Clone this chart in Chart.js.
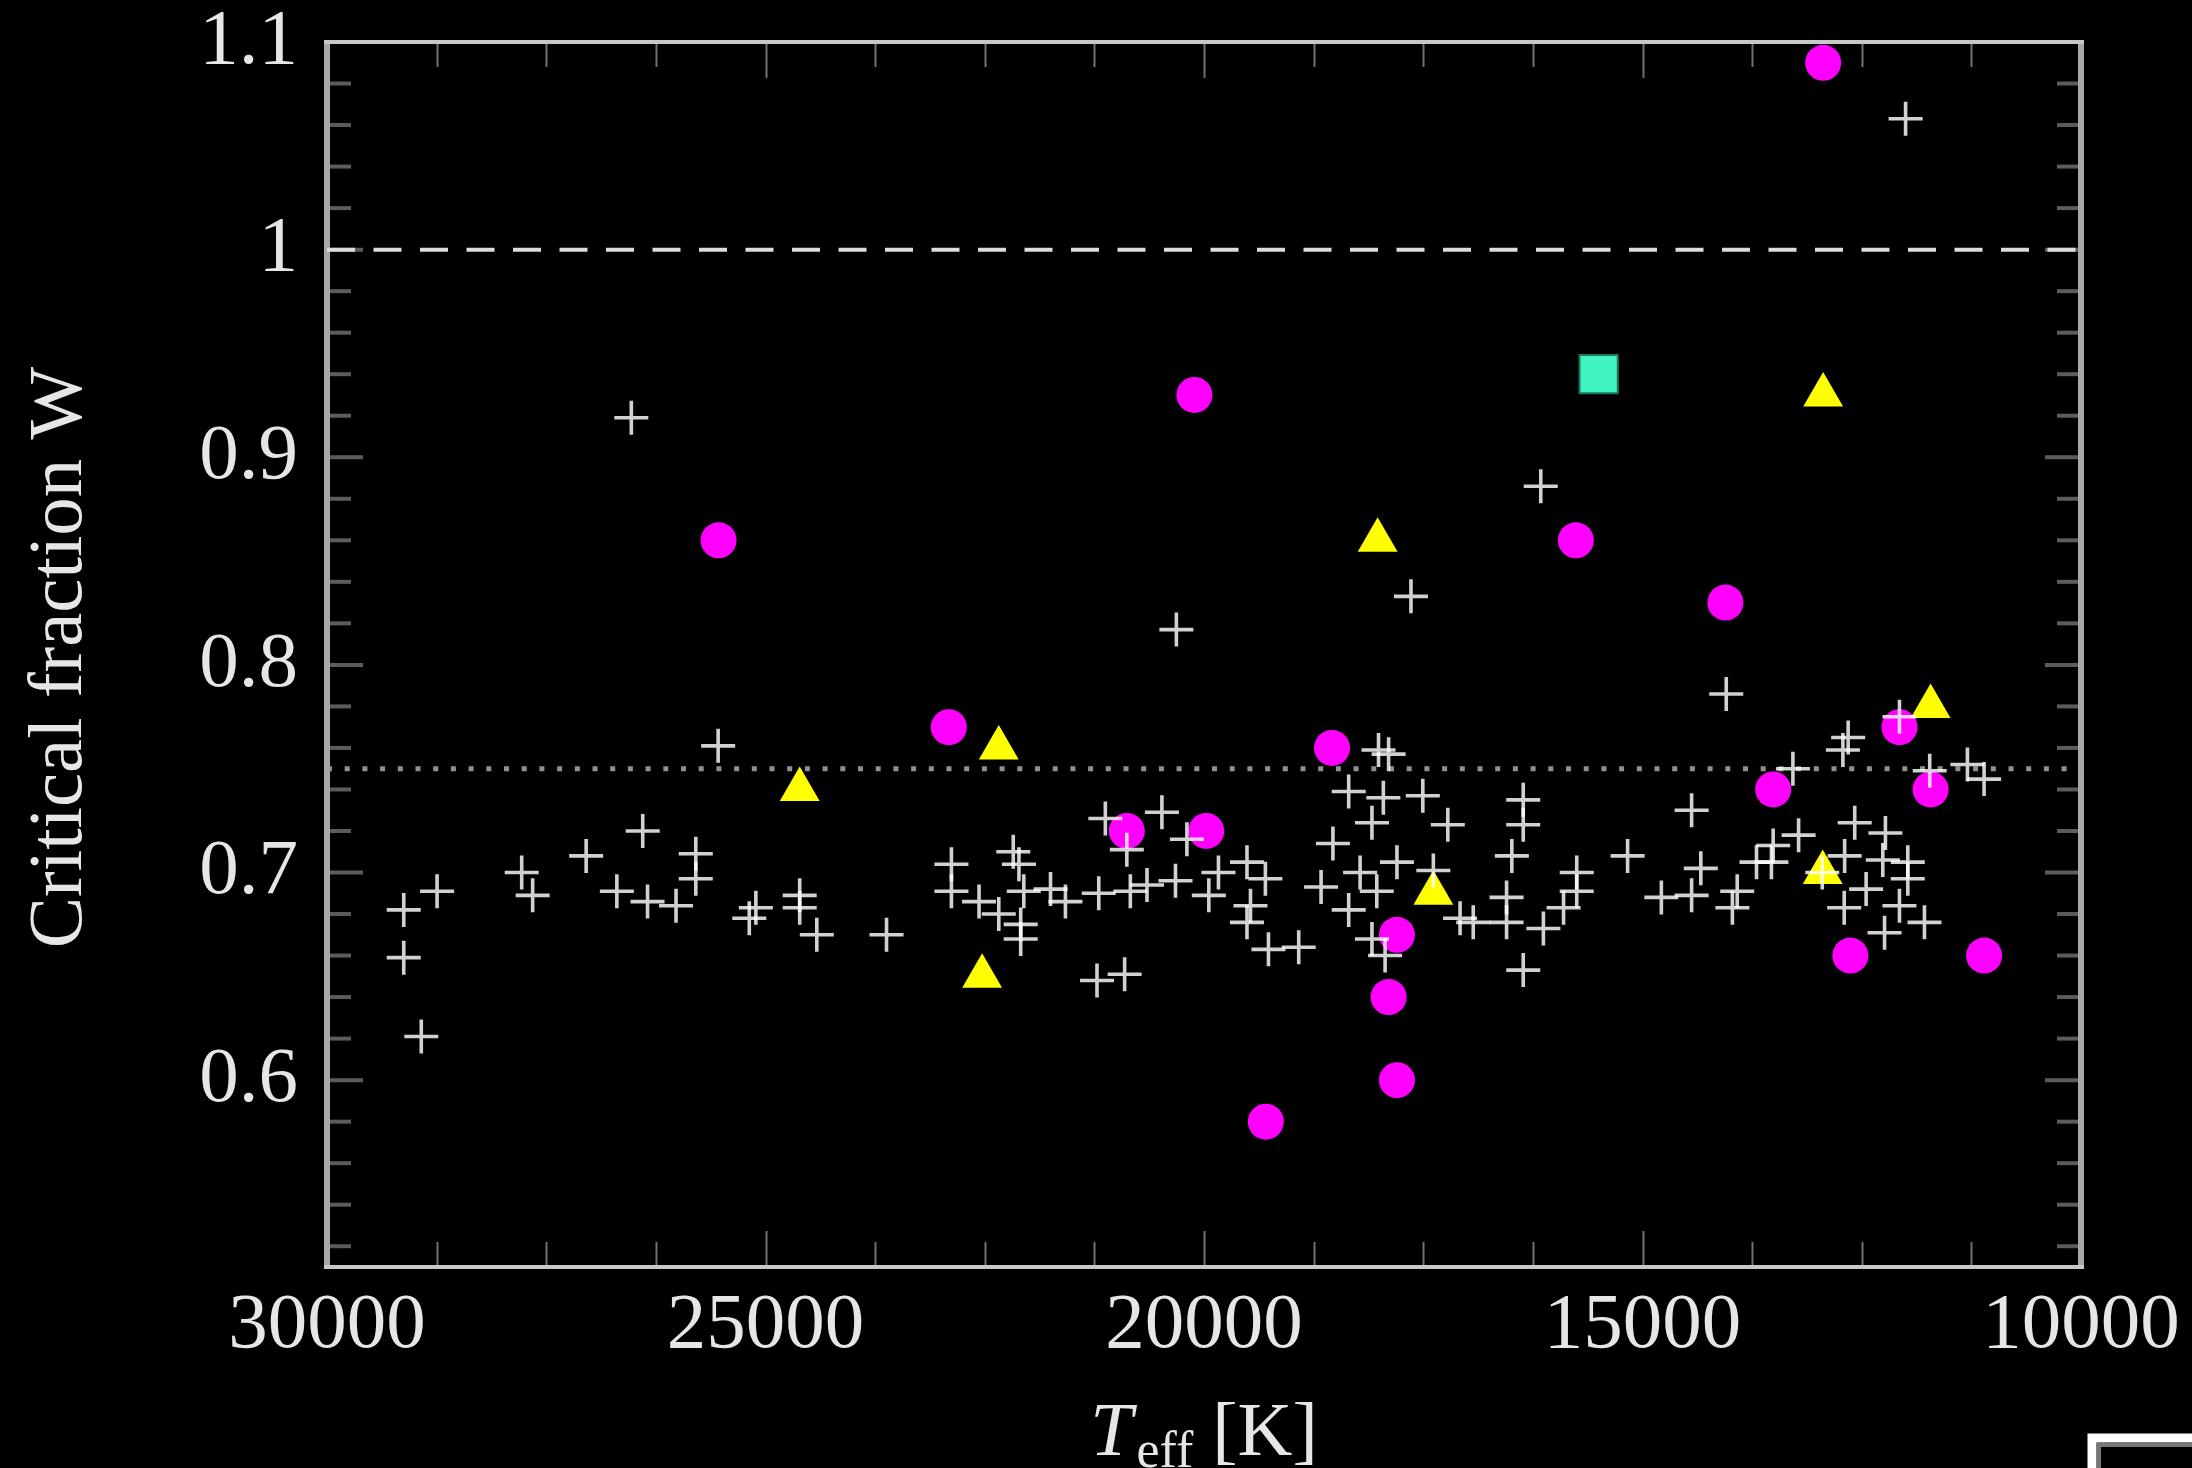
<!DOCTYPE html>
<html>
<head>
<meta charset="utf-8">
<script src="https://cdn.jsdelivr.net/npm/chart.js@4.4.1/dist/chart.umd.min.js"></script>
<style>
html, body { margin: 0; padding: 0; background: #000; }
canvas { display: block; }
</style>
</head>
<body>
<canvas id="c" width="2192" height="1468"></canvas>
<script>
// Sample stars: effective temperature (K) and critical rotation fraction W
const crossTeff = [29125, 29125, 28925, 28745, 27780, 27655, 27045, 26695, 26530, 26400, 26345, 26020, 25795, 25795, 25540, 25185, 25110, 24610, 24610, 24415,
  23620, 22880, 22880, 22565, 22340, 22175, 22110, 22055, 22090, 22090, 21750, 21580, 21220, 21200, 21125, 20905, 20880, 20840, 20650, 20480,
  20325, 20315, 20195, 19945, 19835, 19510, 19510, 19470, 19300, 19265, 18920, 18665, 18530, 18350, 18350, 18220, 18085, 18085, 18030, 18010,
  17955, 17935, 17895, 17800, 17640, 17505, 17385, 17220, 17080, 16930, 16550, 16550, 16490, 16360, 16360, 16360, 16160, 16130, 15900, 15750,
  15750, 15170, 14785, 14440, 14440, 14335, 14045, 13975, 13920, 13700, 13530, 13510, 13285, 13220, 12950, 12715, 12700, 12695, 12655, 12580,
  12450, 12260, 12240, 12230, 12070, 12070, 12000, 11975, 11975, 11785, 11725, 11295, 11105];
const crossW = [0.682, 0.659, 0.621, 0.691, 0.700, 0.689, 0.708, 0.691, 0.919, 0.720, 0.686, 0.684, 0.709, 0.697, 0.761, 0.678, 0.683, 0.689, 0.683, 0.670,
  0.670, 0.704, 0.691, 0.686, 0.680, 0.710, 0.704, 0.691, 0.675, 0.668, 0.692, 0.686, 0.648, 0.690, 0.726, 0.651, 0.711, 0.691, 0.694, 0.729,
  0.696, 0.817, 0.716, 0.689, 0.700, 0.705, 0.676, 0.684, 0.697, 0.663, 0.664, 0.693, 0.714, 0.739, 0.682, 0.700, 0.724, 0.668, 0.691, 0.759,
  0.736, 0.660, 0.757, 0.705, 0.833, 0.737, 0.701, 0.723, 0.678, 0.676, 0.688, 0.676, 0.708, 0.735, 0.723, 0.653, 0.886, 0.673, 0.683, 0.700,
  0.691, 0.708, 0.688, 0.730, 0.689, 0.702, 0.786, 0.683, 0.691, 0.705, 0.705, 0.713, 0.750, 0.718, 0.700, 0.759, 0.683, 0.708, 0.765, 0.724,
  0.692, 0.706, 0.671, 0.719, 0.775, 0.684, 1.063, 0.705, 0.697, 0.676, 0.749, 0.752, 0.745];

const circleTeff = [12940, 25535, 20110, 15760, 14055, 22910, 18540, 20880, 19975, 12070, 13510, 11715, 17800, 17895, 17800, 19295, 12630, 11105];
const circleW = [1.09, 0.86, 0.93, 0.86, 0.83, 0.77, 0.76, 0.72, 0.72, 0.77, 0.74, 0.74, 0.67, 0.64, 0.60, 0.58, 0.66, 0.66];

const triangleTeff = [12940, 18020, 22340, 24610, 11715, 17385, 12945, 22530];
const triangleW = [0.93, 0.86, 0.76, 0.74, 0.78, 0.69, 0.70, 0.65];

const squareTeff = [15500];
const squareW = [0.94];

// Axis ticks and reference levels
const xTickValues = [30000, 25000, 20000, 15000, 10000];
const yTickValues = [0.6, 0.7, 0.8, 0.9, 1.0, 1.1];
const xRange = [10000, 30000];
const yRange = [0.51, 1.1];
const xMinorStep = 1250;
const yMinorStep = 0.02;
const criticalLevel = 1.0;
const referenceLevel = 0.75;

const pts = (xs, ys) => xs.map((x, i) => ({ x, y: ys[i] }));
const level = v => [{ x: xRange[1], y: v }, { x: xRange[0], y: v }];

const SERIF = '"Liberation Serif", "DejaVu Serif", serif';
const TEXT = '#e6e6e6';

// Frame with inward tick marks on all four sides
const framePlugin = {
  id: 'frame',
  beforeDatasetsDraw(chart) {
    const { ctx, chartArea: a, scales: { x, y } } = chart;
    ctx.save();
    const seg = (x1, y1, x2, y2) => { ctx.beginPath(); ctx.moveTo(x1, y1); ctx.lineTo(x2, y2); ctx.stroke(); };
    ctx.strokeStyle = '#707070';
    ctx.lineWidth = 2;
    for (let v = xRange[0]; v <= xRange[1] + 1; v += xMinorStep) {
      const px = Math.round(x.getPixelForValue(v)) + 0.5;
      const len = v % 5000 === 0 ? 36 : 25;
      seg(px, a.bottom, px, a.bottom - len);
      seg(px, a.top, px, a.top + len);
    }
    ctx.strokeStyle = '#5c5c5c';
    ctx.lineWidth = 4;
    for (let i = 26; i <= 55; i++) {
      const py = y.getPixelForValue(i * yMinorStep);
      const len = i % 5 === 0 ? 36 : 24;
      seg(a.left, py, a.left + len, py);
      seg(a.right, py, a.right - len, py);
    }
    ctx.strokeStyle = '#a8a8a8';
    ctx.lineWidth = 6;
    seg(a.left, a.top - 2, a.left, a.bottom + 2);
    seg(a.right, a.top - 2, a.right, a.bottom + 2);
    ctx.strokeStyle = '#c8c8c8';
    ctx.lineWidth = 4;
    seg(a.left - 3, a.top, a.right + 3, a.top);
    seg(a.left - 3, a.bottom, a.right + 3, a.bottom);
    ctx.restore();
  }
};

// Axis titles (subscripted temperature label) and the edge of the key box
const titlesPlugin = {
  id: 'titles',
  afterDraw(chart) {
    const { ctx, chartArea: a } = chart;
    ctx.save();
    ctx.fillStyle = TEXT;
    ctx.textBaseline = 'alphabetic';

    // y title
    ctx.save();
    ctx.translate(81, (a.top + a.bottom) / 2 + 3);
    ctx.rotate(-Math.PI / 2);
    ctx.textAlign = 'center';
    ctx.font = '77px ' + SERIF;
    ctx.fillText('Critical fraction W', 0, 0);
    ctx.restore();

    // x title: T_eff [K]
    const fT = 'italic 76px ' + SERIF, fSub = '52px ' + SERIF, fMain = '76px ' + SERIF;
    ctx.font = fT; const wT = ctx.measureText('T').width;
    ctx.font = fSub; const wS = ctx.measureText('eff').width;
    ctx.font = fMain; const wK = ctx.measureText(' [K]').width;
    const total = wT + 4 + wS + wK;
    let cx = (a.left + a.right) / 2 - total / 2;
    const base = 1455;
    ctx.textAlign = 'left';
    ctx.font = fT; ctx.fillText('T', cx, base); cx += wT + 4;
    ctx.font = fSub; ctx.fillText('eff', cx, base + 12); cx += wS;
    ctx.font = fMain; ctx.fillText(' [K]', cx, base);

    // corner of key box at the lower right
    ctx.strokeStyle = '#ffffff';
    ctx.lineWidth = 9;
    ctx.strokeRect(2092, 1438, 300, 200);
    ctx.strokeStyle = '#777777';
    ctx.lineWidth = 4;
    ctx.strokeRect(2099, 1445, 300, 200);
    ctx.restore();
  }
};

new Chart(document.getElementById('c'), {
  type: 'scatter',
  data: {
    datasets: [
      { label: 'crosses', data: pts(crossTeff, crossW), order: 0,
        pointStyle: 'cross', pointRadius: 17, pointBorderWidth: 3.6,
        pointBorderColor: 'rgba(255,255,255,0.82)', pointBackgroundColor: 'rgba(0,0,0,0)' },
      { label: 'triangles', data: pts(triangleTeff, triangleW), order: 1,
        pointStyle: 'triangle', pointRadius: 23, pointBorderWidth: 0,
        pointBackgroundColor: '#ffff00' },
      { label: 'square', data: pts(squareTeff, squareW), order: 2,
        pointStyle: 'rect', pointRadius: 27, pointBorderWidth: 2,
        pointBackgroundColor: '#40f5c2', pointBorderColor: '#1d7a5f' },
      { label: 'circles', data: pts(circleTeff, circleW), order: 3,
        pointStyle: 'circle', pointRadius: 18, pointBorderWidth: 0,
        pointBackgroundColor: '#ff00ff' },
      { label: 'W = 1', data: level(criticalLevel), order: 4, showLine: true,
        borderColor: '#dcdcdc', borderWidth: 4, borderDash: [28, 18.5], pointRadius: 0 },
      { label: 'W = 0.75', data: level(referenceLevel), order: 5, showLine: true,
        borderColor: 'rgba(160,160,160,0.9)', borderWidth: 5, borderDash: [5, 12.7], pointRadius: 0 }
    ]
  },
  options: {
    responsive: false,
    animation: false,
    devicePixelRatio: 1,
    layout: { padding: { left: 0, top: 42, right: 111, bottom: 0 } },
    plugins: { legend: { display: false }, tooltip: { enabled: false } },
    scales: {
      x: {
        type: 'linear', reverse: true, min: xRange[0], max: xRange[1],
        afterBuildTicks: s => { s.ticks = xTickValues.map(v => ({ value: v })); },
        afterFit: s => { s.height = 201; s.paddingLeft = 0; s.paddingRight = 0; },
        grid: { display: false, drawTicks: false },
        border: { display: false },
        ticks: { color: TEXT, font: { family: SERIF, size: 79 }, padding: 12,
          maxRotation: 0, autoSkip: false, callback: v => String(v) }
      },
      y: {
        type: 'linear', min: yRange[0], max: yRange[1],
        afterBuildTicks: s => { s.ticks = yTickValues.map(v => ({ value: v })); },
        afterFit: s => { s.width = 327; s.paddingTop = 0; s.paddingBottom = 0; },
        grid: { display: false, drawTicks: false },
        border: { display: false },
        ticks: { color: TEXT, font: { family: SERIF, size: 79 }, padding: 29,
          autoSkip: false, callback: v => String(Number(Number(v).toFixed(2))) }
      }
    }
  },
  plugins: [framePlugin, titlesPlugin]
});
</script>
</body>
</html>
